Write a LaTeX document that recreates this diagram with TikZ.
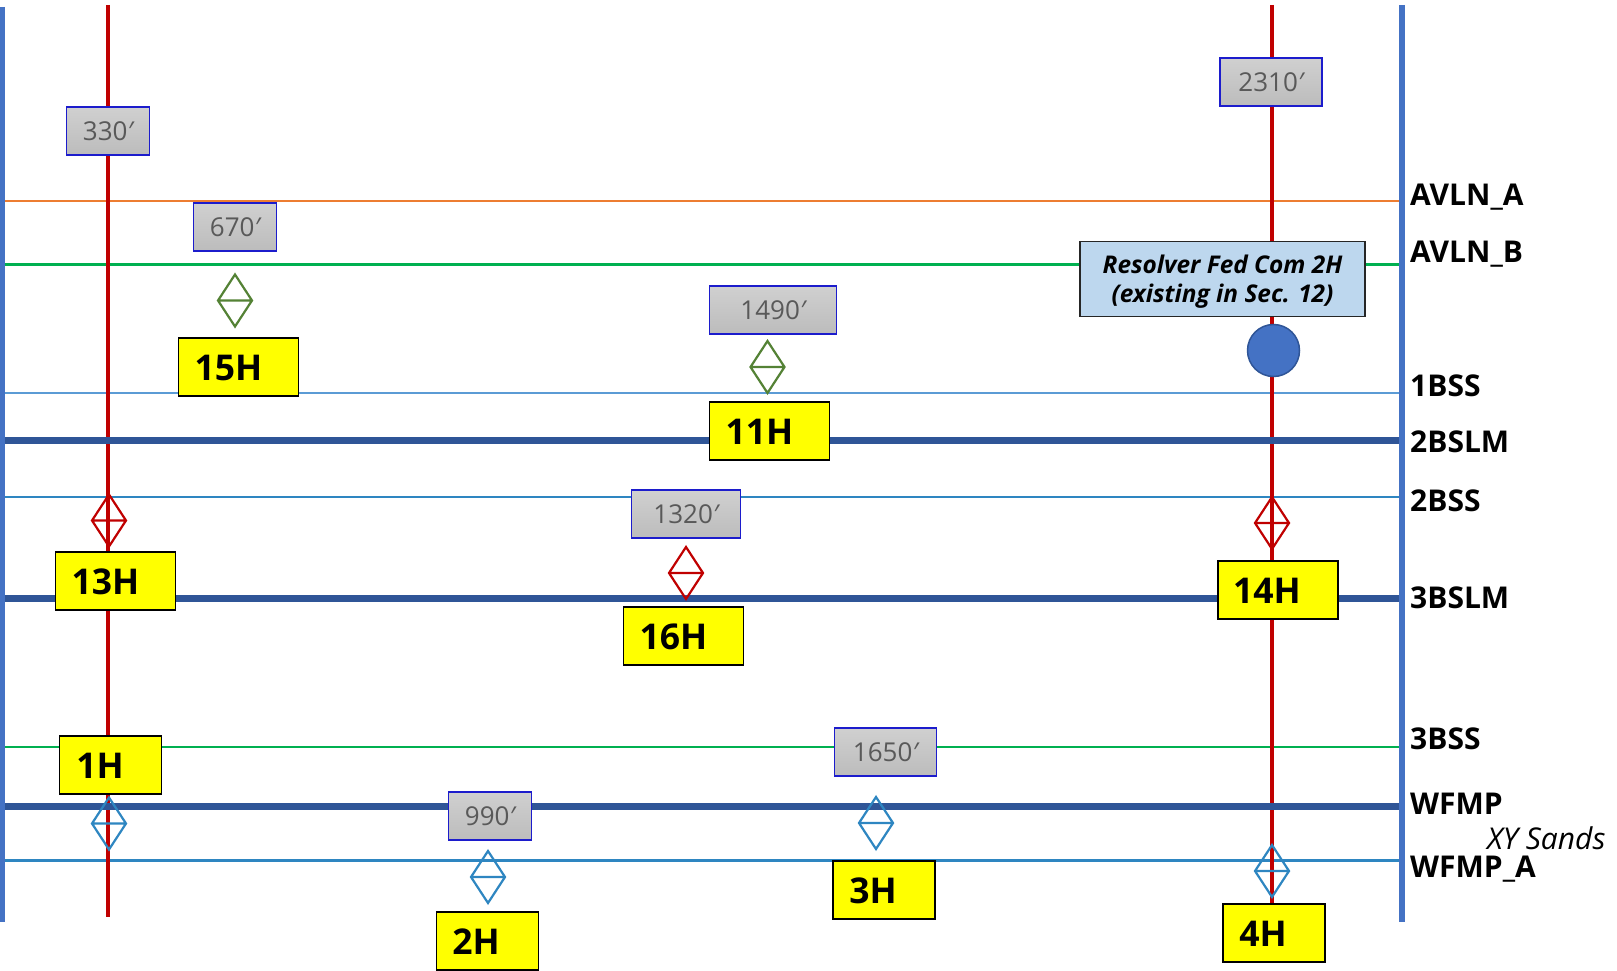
\documentclass[tikz,border=0pt]{standalone}
\usepackage{fontspec}
\setmainfont{Open Sans}
\definecolor{barblue}{HTML}{4472C4}
\definecolor{darkblue}{HTML}{2F5597}
\definecolor{wellred}{HTML}{C00000}
\definecolor{lorange}{HTML}{ED7D31}
\definecolor{lgreen}{HTML}{00B050}
\definecolor{lblue}{HTML}{5B9BD5}
\definecolor{cyanb}{HTML}{2E86C1}
\definecolor{dgreen}{HTML}{548235}
\definecolor{boxtxt}{HTML}{595959}
\definecolor{callout}{HTML}{BDD7EE}
\definecolor{tagyellow}{HTML}{FFFF00}
\definecolor{boxtop}{HTML}{D0D0D0}
\definecolor{boxbot}{HTML}{BCBCBC}
\definecolor{boxline}{HTML}{1C1CCC}
\tikzset{
  x=1pt,y=-1pt,
  bar/.style={barblue,line width=6.7pt},
  well/.style={wellred,line width=3.6pt},
  thinl/.style={line width=2.5pt},
  thickl/.style={darkblue,line width=7pt},
  dist/.style={draw=boxline,line width=1.2pt,top color=boxtop,bottom color=boxbot,minimum width=83pt,minimum height=48pt,inner sep=0pt,text=boxtxt,font=\fontsize{26}{28}\selectfont},
  tag/.style={draw=black,line width=1.5pt,fill=tagyellow,inner sep=0pt,font=\fontsize{35.5}{38}\selectfont\bfseries},
  zone/.style={anchor=west,inner sep=0pt,font=\fontsize{30}{32}\selectfont\bfseries},
}
\newcommand{\dia}[3]{% colour, cx, cy
  \draw[#1,line width=2.2pt] (#2,#3-26) -- (#2+17,#3) -- (#2,#3+26) -- (#2-17,#3) -- cycle (#2-17,#3) -- (#2+17,#3);}
\newcommand{\pr}{{\itshape ′}}
\newcommand{\tagtxt}[2]{\smash{\raisebox{-13.7pt}{\hspace*{#1}#2}}}
\begin{document}
\begin{tikzpicture}
\useasboundingbox (0,0) rectangle (1617,971);
\fill[white] (0,0) rectangle (1617,971);
% named end points
\foreach \n/\y in {a/201,b/264.5,c/393,d/440.7,e/497,f/598,g/747,h/806.7,i/860.3}{
  \coordinate (L\n) at (5,\y); \coordinate (R\n) at (1402,\y);}
\coordinate (wl1) at (108,5); \coordinate (wl2) at (108,917);
\coordinate (wr1) at (1272,5); \coordinate (wr2) at (1272,905);
\draw[thinl,lorange] (La) -- (Ra);
\draw[thinl,lgreen] (Lb) -- (Rb);
\draw[thinl,lblue] (Lc) -- (Rc);
\draw[thinl,cyanb] (Le) -- (Re);
\draw[thinl,lgreen] (Lg) -- (Rg);
\draw[thinl,cyanb] (Li) -- (Ri);
\draw[well] (wl1) -- (wl2);
\draw[well] (wr1) -- (wr2);
\draw[thickl] (Ld) -- (Rd);
\draw[thickl] (Lf) -- (Rf);
\draw[thickl] (Lh) -- (Rh);
\draw[bar] (2,7) -- (2,922);
\draw[bar] (1402,5) -- (1402,922);
% distance boxes
\node[dist] (d330) at (108,131) {\raisebox{-1pt}{330\pr}};
\node[dist] (d670) at (235,227) {\raisebox{-1pt}{670\pr}};
\node[dist,minimum width=102pt] (d2310) at (1271,82) {\raisebox{-1pt}{2310\pr}};
\node[dist,minimum width=127pt] (d1490) at (773,310) {\raisebox{-1pt}{1490\pr}};
\node[dist,minimum width=109pt] (d1320) at (686,514) {\raisebox{-1pt}{1320\pr}};
\node[dist,minimum width=102pt] (d1650) at (885.5,752) {\raisebox{-1pt}{1650\pr}};
\node[dist] (d990) at (490,816) {\raisebox{-1pt}{990\pr}};
% diamonds
\dia{dgreen}{235}{300.5}
\dia{dgreen}{767.5}{367}
\dia{wellred}{109}{520.5}
\dia{wellred}{1272}{523}
\dia{wellred}{686}{573}
\dia{cyanb}{109}{823.5}
\dia{cyanb}{488}{877}
\dia{cyanb}{876}{823}
\dia{cyanb}{1272}{871}
% tags
\node[tag,minimum width=120pt,minimum height=58pt] (t15) at (238.5,367) {\tagtxt{-20pt}{15H}};
\node[tag,minimum width=120pt,minimum height=58pt] (t11) at (769.5,431) {\tagtxt{-20pt}{11H}};
\node[tag,minimum width=120pt,minimum height=58pt] (t13) at (115.5,581) {\tagtxt{-20pt}{13H}};
\node[tag,minimum width=120pt,minimum height=58pt] (t14) at (1278,590) {\tagtxt{-22pt}{14H}};
\node[tag,minimum width=120pt,minimum height=58pt] (t16) at (683.5,636) {\tagtxt{-20pt}{16H}};
\node[tag,minimum width=102pt,minimum height=58pt] (t1) at (110.5,765) {\tagtxt{-21pt}{1H}};
\node[tag,minimum width=102pt,minimum height=58pt] (t2) at (487.5,941) {\tagtxt{-23pt}{2H}};
\node[tag,minimum width=102pt,minimum height=58pt] (t3) at (884,890) {\tagtxt{-22pt}{3H}};
\node[tag,minimum width=102pt,minimum height=58pt] (t4) at (1274,933) {\tagtxt{-22pt}{4H}};
% callout
\node[draw=black!85,line width=1.5pt,fill=callout,minimum width=285pt,minimum height=75pt,inner sep=0pt,align=center,font=\fontsize{24.4}{29}\selectfont\bfseries\itshape] (note) at (1222.5,279) {\smash{\raisebox{-9pt}{Resolver Fed Com 2H}}\\\smash{\raisebox{-9pt}{(existing in Sec. 12)}}};
\node[circle,draw=darkblue,line width=1.5pt,fill=barblue,minimum size=52pt,inner sep=0pt] (well) at (1273.5,350.5) {};
% zone labels
\node[zone] (ava) at (1410,197) {AVLN\_A};
\node[zone] (avb) at (1410,254) {AVLN\_B};
\node[zone] (bs1) at (1410,386) {1BSS};
\node[zone] (bsl2) at (1410,442) {2BSLM};
\node[zone] (bs2) at (1410,501) {2BSS};
\node[zone] (bsl3) at (1410,598) {3BSLM};
\node[zone] (bs3) at (1410,739) {3BSS};
\node[zone] (wf) at (1410,804) {WFMP};
\node[zone] (wfa) at (1410,869) {WFMP\_A};
\node[anchor=west,inner sep=0pt,font=\fontsize{30}{32}\selectfont\itshape] (xy) at (1487,838) {XY Sands};
\end{tikzpicture}
\end{document}
